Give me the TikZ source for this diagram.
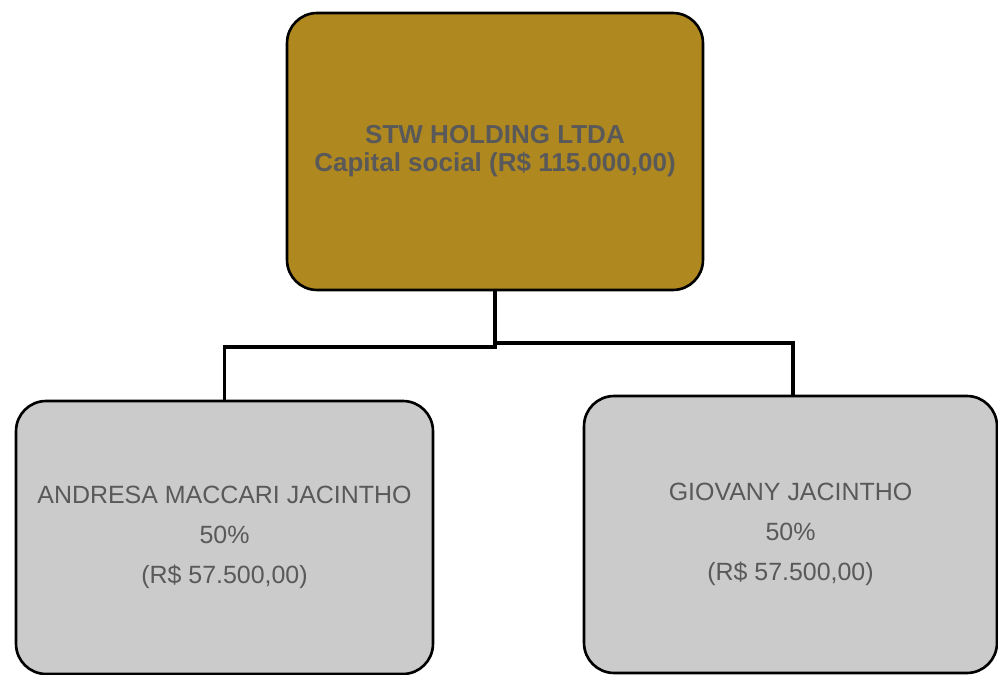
\documentclass[tikz,border=0pt]{standalone}
\usepackage{fontspec}
\setmainfont{Liberation Sans}
\usetikzlibrary{positioning}
\definecolor{holdinggold}{HTML}{B08820}
\definecolor{partnergray}{HTML}{CBCBCB}
\definecolor{labelgray}{HTML}{595959}
\newcommand{\partnerfont}{\fontsize{14.2}{22.7}\selectfont}
\newcommand{\holdingfont}{\fontsize{14.8}{16}\selectfont\bfseries}
\tikzstyle{orgbox}=[draw=black, line width=1.5pt, rounded corners=0.6cm, align=center, text=labelgray, inner sep=0pt]
\tikzstyle{holding}=[orgbox, fill=holdinggold, minimum width=8.32cm, minimum height=5.54cm, font=\holdingfont]
\tikzstyle{partner}=[orgbox, fill=partnergray, font=\partnerfont]
\tikzstyle{link}=[line width=2pt, black]

\begin{document}
\begin{tikzpicture}[x=0.02cm, y=-0.02cm]
        \useasboundingbox (0,0) rectangle (998,675);

        % holding on top
        \node[holding] (stw) at (495,151.5) {STW HOLDING LTDA\\Capital social (R\$ 115.000,00)};

        % the two partners
        \node[partner, minimum width=8.34cm, minimum height=5.46cm] (andresa) at (224.5,537.5) {ANDRESA MACCARI JACINTHO\\50\%\\(R\$ 57.500,00)};
        \node[partner, minimum width=8.26cm, minimum height=5.54cm] (giovany) at (790.5,534.5) {GIOVANY JACINTHO\\50\%\\(R\$ 57.500,00)};

        % branch points
        \coordinate (splitL) at (495,347);
        \coordinate (splitR) at (495,343);

        \draw[link] (stw.south) -- (splitL) -| (andresa.north);
        \draw[link] (splitR) -| ([xshift=0.05cm]giovany.north);
\end{tikzpicture}
\end{document}
